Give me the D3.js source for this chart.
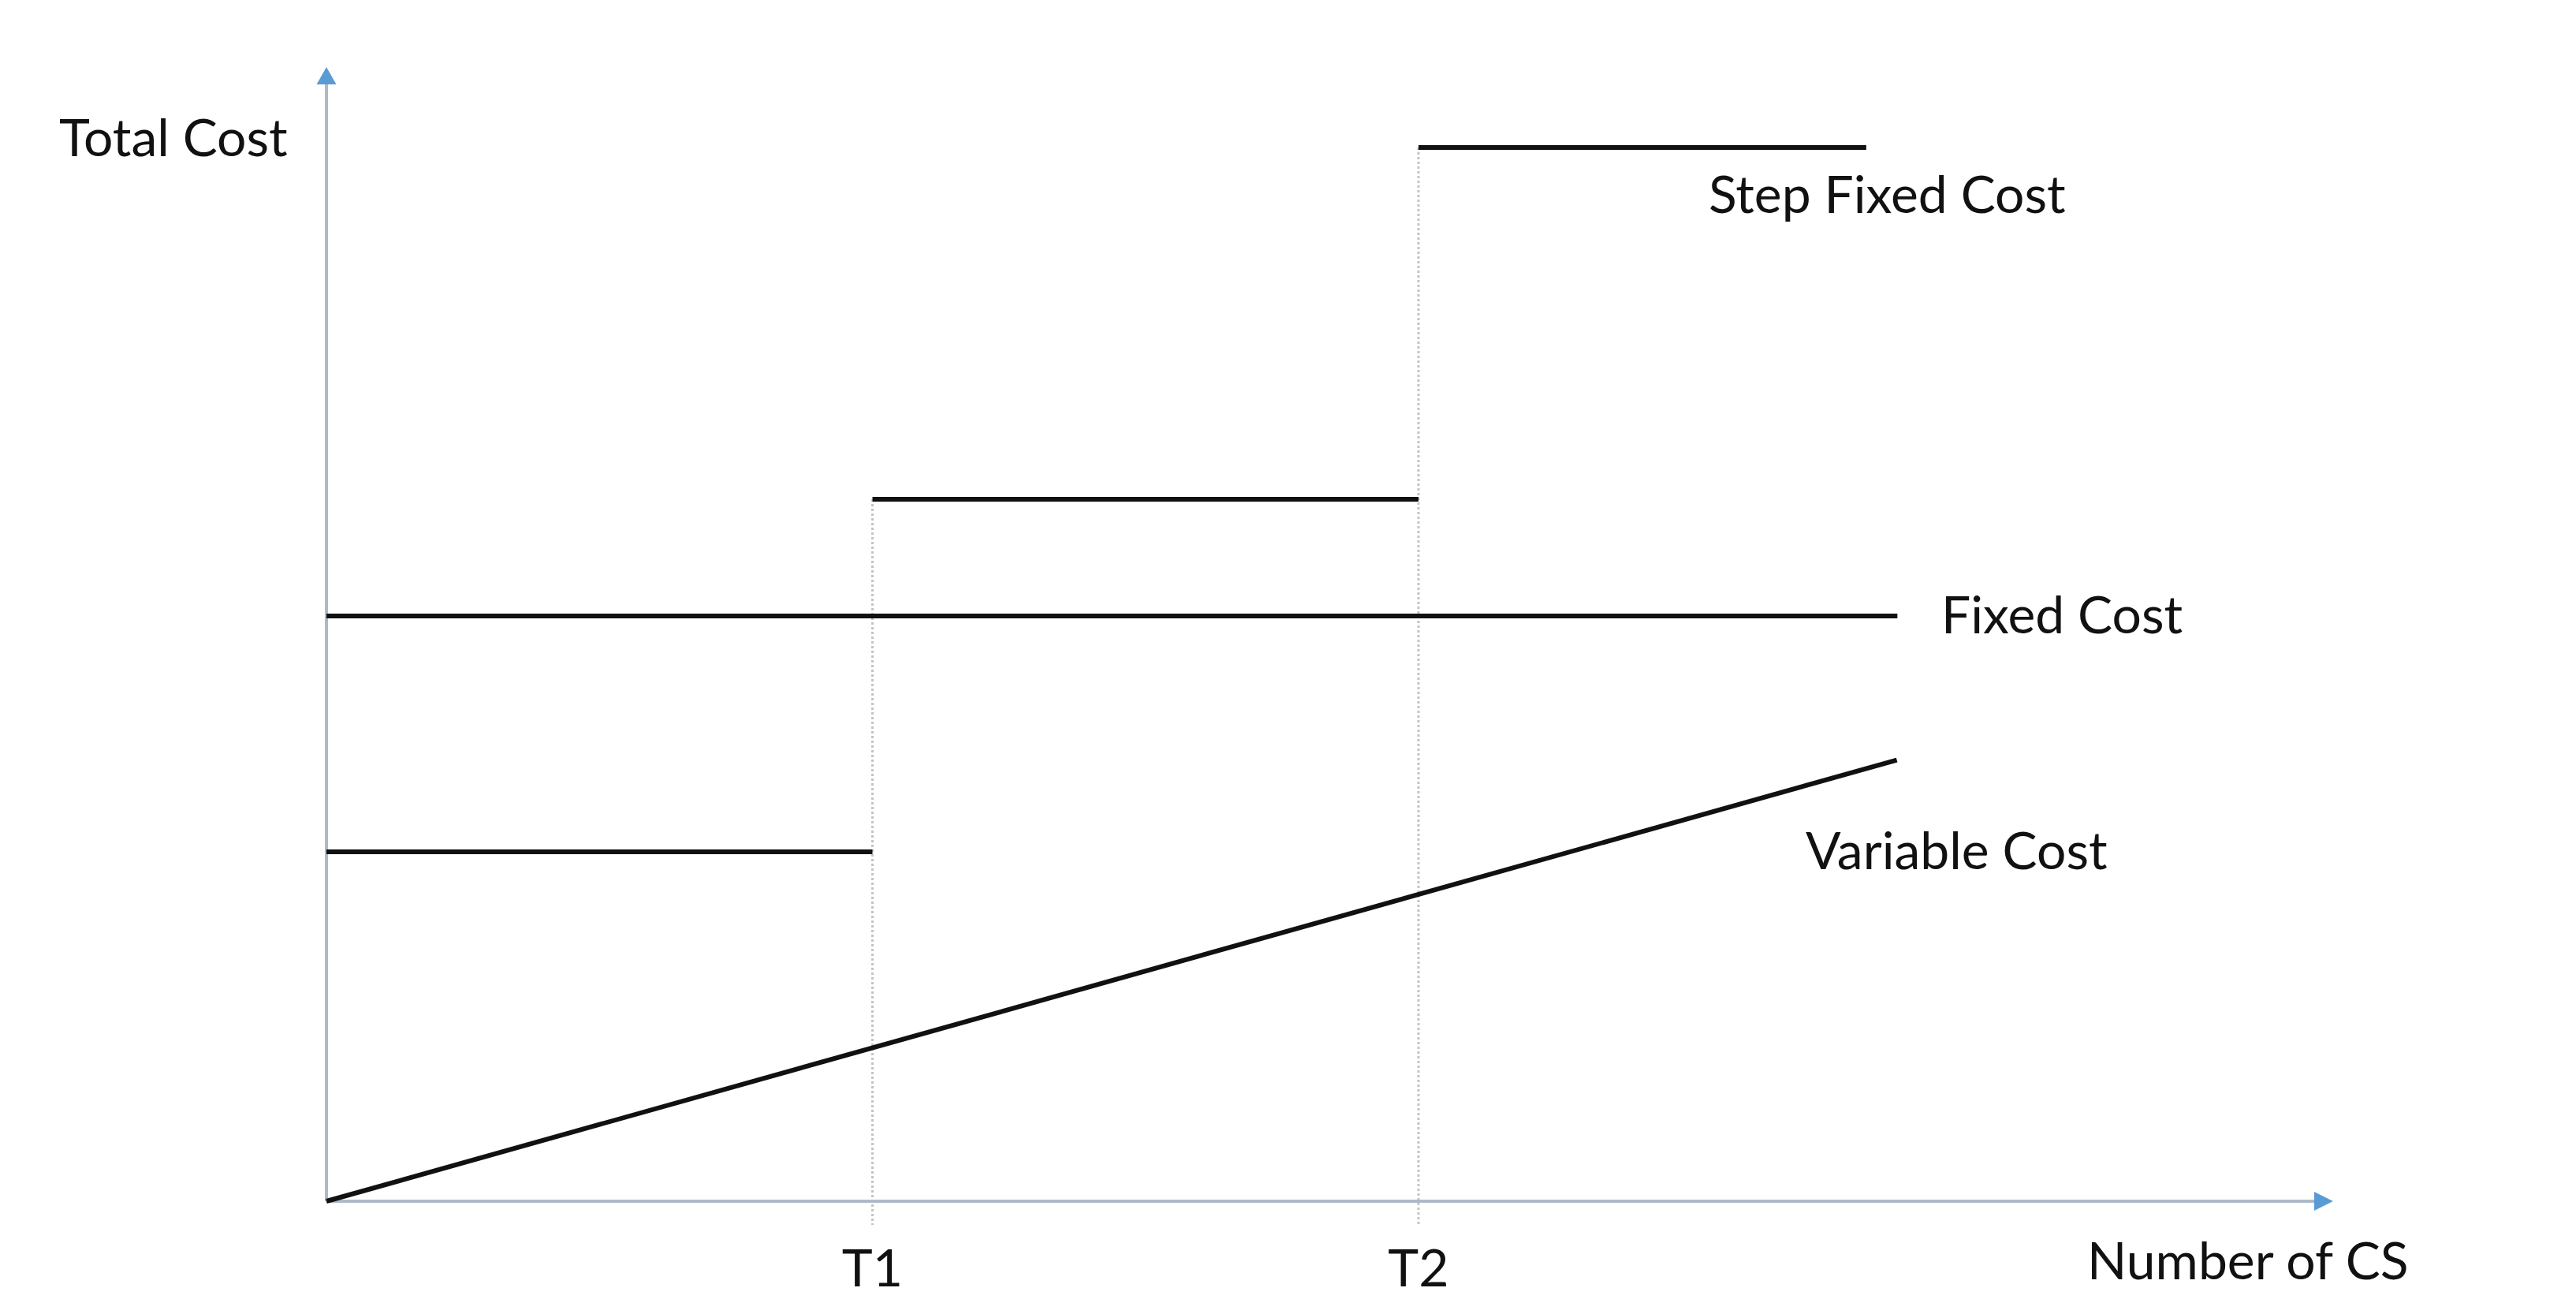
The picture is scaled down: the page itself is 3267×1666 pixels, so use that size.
<!DOCTYPE html>
<html>
<head>
<meta charset="utf-8">
<script src="https://cdn.jsdelivr.net/npm/d3@7"></script>
<style>
  html, body { margin: 0; padding: 0; background: #fff; }
  svg text { font-family: Lato, "Open Sans", sans-serif; fill: #111; }
</style>
</head>
<body>
<div id="chart"></div>
<script>
// thresholds on the x axis (Number of CS)
const thresholds = ["T1", "T2"];
const thresholdX = [1, 2];

// step fixed cost: [xStart, xEnd, level]
const stepStart = [0, 1, 2];
const stepEnd = [1, 2, 2.82];
const stepLevel = [30.8, 61.9, 92.9];

// fixed cost: flat line
const fixedX = [0, 2.877];
const fixedY = [51.6, 51.6];

// variable cost: straight line from origin
const variableX = [0, 2.876];
const variableY = [0, 38.9];

const labels = ["Step Fixed Cost", "Fixed Cost", "Variable Cost"];
const axisTitles = ["Total Cost", "Number of CS"];

var W = 3267, H = 1666;
var svg = d3.select("#chart").append("svg")
    .attr("width", W)
    .attr("height", H);

// scales: origin at (414, 1523)
var x = d3.scaleLinear().domain([0, 1]).range([414, 1106.5]);
var y = d3.scaleLinear().domain([0, 100]).range([1523, 85]);

var axisColor = "#aebaca", arrowColor = "#5b9bd5";

// dotted threshold guides
svg.selectAll(".guide")
    .data(thresholdX)
    .enter()
    .append("line")
    .attr("x1", d => x(d))
    .attr("x2", d => x(d))
    .attr("y1", (d, i) => y(stepLevel[i + 1]))
    .attr("y2", y(0) + 30)
    .attr("stroke", "#c4c4c4")
    .attr("stroke-width", 3)
    .attr("stroke-dasharray", "3,3");

// axes
svg.append("line")
    .attr("x1", x(0)).attr("y1", y(0))
    .attr("x2", x(0)).attr("y2", y(100) + 20)
    .attr("stroke", axisColor).attr("stroke-width", 4);
svg.append("line")
    .attr("x1", x(0)).attr("y1", y(0))
    .attr("x2", x(3.675) - 22).attr("y2", y(0))
    .attr("stroke", axisColor).attr("stroke-width", 4);

// arrow heads
var ax = x(0), ay = y(100);
svg.append("path")
    .attr("d", `M${ax},${ay} L${ax - 12.5},${ay + 22} L${ax + 12.5},${ay + 22} Z`)
    .attr("fill", arrowColor);
var bx = x(3.675), by = y(0);
svg.append("path")
    .attr("d", `M${bx},${by} L${bx - 24},${by - 12} L${bx - 24},${by + 12} Z`)
    .attr("fill", arrowColor);

// step fixed cost
svg.selectAll(".step")
    .data(stepLevel)
    .enter()
    .append("line")
    .attr("x1", (d, i) => x(stepStart[i]))
    .attr("x2", (d, i) => x(stepEnd[i]))
    .attr("y1", d => y(d))
    .attr("y2", d => y(d))
    .attr("stroke", "#111")
    .attr("stroke-width", 6);

var line = d3.line().x(d => x(d[0])).y(d => y(d[1]));

// fixed cost
svg.append("path")
    .attr("d", line(d3.zip(fixedX, fixedY)))
    .attr("fill", "none").attr("stroke", "#111").attr("stroke-width", 6);

// variable cost
svg.append("path")
    .attr("d", line(d3.zip(variableX, variableY)))
    .attr("fill", "none").attr("stroke", "#111").attr("stroke-width", 6);

var fs = 66;

// threshold labels
svg.selectAll(".tlabel")
    .data(thresholds)
    .enter()
    .append("text")
    .attr("x", (d, i) => x(thresholdX[i]))
    .attr("y", 1631)
    .attr("text-anchor", "middle")
    .attr("font-size", fs)
    .text(d => d);

// series labels
svg.append("text").attr("x", 2167).attr("y", 270).attr("font-size", fs).text(labels[0]);
svg.append("text").attr("x", 2462).attr("y", 803).attr("font-size", fs).text(labels[1]);
svg.append("text").attr("x", 2290).attr("y", 1102).attr("font-size", fs).text(labels[2]);

// axis titles
svg.append("text").attr("x", 75).attr("y", 198).attr("font-size", fs).text(axisTitles[0]);
svg.append("text").attr("x", 2647).attr("y", 1622).attr("font-size", fs).text(axisTitles[1]);
</script>
</body>
</html>
